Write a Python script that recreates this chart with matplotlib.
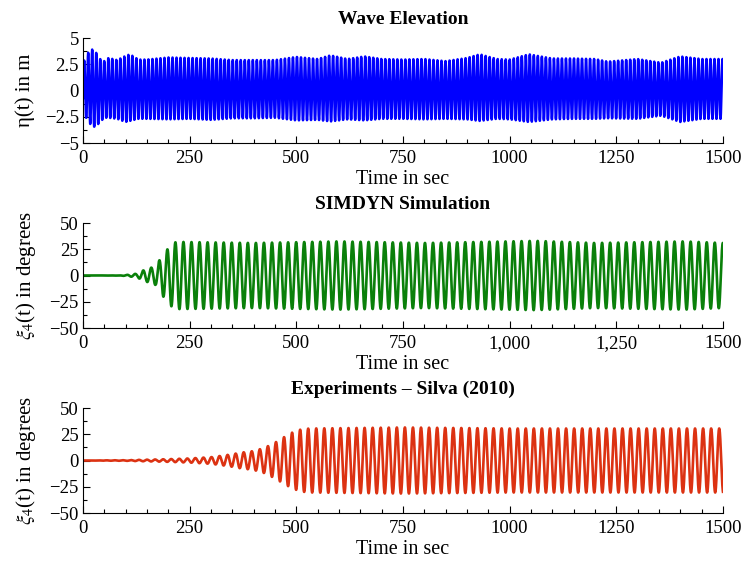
"""
plot.py — wave elevation and roll response (SIMDYN vs. experiment).

Envelope values and periods were read off the reference figure;
the oscillation itself is drawn as a carrier under those envelopes.
"""

import numpy as np
import matplotlib
matplotlib.use("Agg")
import matplotlib.pyplot as plt
from matplotlib.ticker import MultipleLocator, FixedLocator, FixedFormatter

# --- wave elevation (m): crest / trough envelope ---------------------------
wave_t = [0, 10, 20, 30, 40, 50, 60, 80, 100, 110, 130, 150, 200, 250, 300,
          350, 400, 450, 500, 550, 580, 620, 660, 700, 750, 800, 850, 900,
          930, 970, 1000, 1045, 1100, 1150, 1200, 1230, 1300, 1355, 1400,
          1450, 1500]
wave_crest = [2.6, 3.5, 3.95, 3.65, 3.0, 2.8, 3.1, 2.9, 3.3, 3.45, 2.95, 2.95,
              3.15, 3.1, 3.05, 2.9, 2.9, 2.9, 3.2, 3.0, 3.35, 3.0, 3.25, 3.0,
              2.95, 3.0, 2.8, 3.1, 3.45, 3.0, 2.95, 3.45, 3.05, 3.05, 3.0,
              2.75, 3.0, 2.65, 3.25, 3.0, 3.0]
wave_trough = [-2.6, -2.6, -3.45, -3.45, -3.0, -2.6, -2.6, -2.7, -3.0, -2.9,
               -2.7, -2.7, -2.75, -2.7, -2.8, -2.65, -2.65, -2.6, -2.85, -2.8,
               -2.95, -2.75, -2.85, -2.7, -2.7, -2.75, -2.7, -2.75, -2.9,
               -2.7, -2.75, -3.0, -2.75, -2.7, -2.7, -2.65, -2.7, -2.4, -3.0,
               -2.7, -2.7]
wave_period = 9.41      # s
wave_crest_t0 = 21.6    # time of a crest, s

# --- roll, SIMDYN simulation (deg) ------------------------------------------
sim_t = [0, 80, 100, 110, 126, 142, 160, 170, 179, 188, 198, 206, 216, 226,
         400, 600, 800, 1060, 1200, 1410, 1500]
sim_amp = [0.0, 0.1, 0.4, 1.0, 1.7, 5.0, 7.5, 9.0, 14.5, 20.0, 25.0, 29.0,
           31.6, 32.0, 31.0, 32.5, 31.0, 33.0, 31.0, 32.5, 31.0]
sim_period = 18.87
sim_peak_t0 = 9.0

# --- roll, experiments Silva (2010) (deg) -----------------------------------
exp_t = [0, 100, 150, 200, 250, 300, 330, 350, 370, 400, 425, 450, 470, 490,
         510, 530, 750, 1000, 1500]
exp_amp = [0.0, 0.3, 0.8, 1.3, 2.0, 3.2, 4.8, 6.0, 7.5, 9.0, 12.0, 17.0,
           22.0, 26.5, 29.5, 30.5, 31.5, 30.5, 30.5]
exp_period = 18.89
exp_peak_t0 = 17.8

x_ticks = [0, 250, 500, 750, 1000, 1250, 1500]
x_labels_plain = ["0", "250", "500", "750", "1000", "1250", "1500"]
x_labels_sim = ["0", "250", "500", "750", "1,000", "1,250", "1500"]

plt.rcParams["font.family"] = ["Liberation Serif", "DejaVu Serif"]
plt.rcParams["mathtext.fontset"] = "stix"
plt.rcParams["axes.unicode_minus"] = True

t = np.arange(0, 1500.05, 0.05)


def wave_signal():
    c = np.cos(2 * np.pi * (t - wave_crest_t0) / wave_period)
    crest = np.interp(t, wave_t, wave_crest)
    trough = np.interp(t, wave_t, wave_trough)
    return np.where(c >= 0, crest * c, -trough * c)


def roll_signal(env_t, env_amp, period, t0):
    return np.interp(t, env_t, env_amp) * np.cos(2 * np.pi * (t - t0) / period)


def style_axes(ax, ylim, ymajor, labels):
    ax.set_xlim(0, 1500)
    ax.set_ylim(*ylim)
    for side in ("top", "right"):
        ax.spines[side].set_visible(False)
    for side in ("left", "bottom"):
        ax.spines[side].set_linewidth(0.8)
    ax.xaxis.set_major_locator(FixedLocator(x_ticks))
    ax.xaxis.set_major_formatter(FixedFormatter(labels))
    ax.xaxis.set_minor_locator(MultipleLocator(50))
    ax.yaxis.set_major_locator(MultipleLocator(ymajor))
    ax.yaxis.set_minor_locator(MultipleLocator(ymajor / 2))
    ax.tick_params(which="both", direction="in", top=False, right=False,
                   labelsize=13.5, width=0.8)
    ax.tick_params(axis="x", pad=5)
    ax.tick_params(axis="y", pad=3)
    ax.tick_params(which="major", length=5)
    ax.tick_params(which="minor", length=3)
    ax.set_xlabel("Time in sec", fontsize=14.5, labelpad=2)


fig = plt.figure(figsize=(7.45, 5.63), dpi=100)
ax1 = fig.add_axes([0.1114, 0.746, 0.859, 0.1865])
ax2 = fig.add_axes([0.1114, 0.4174, 0.859, 0.1865])
ax3 = fig.add_axes([0.1114, 0.0888, 0.859, 0.1865])

ax1.plot(t, wave_signal(), color="#0000ff", lw=1.8)
style_axes(ax1, (-5, 5), 2.5, x_labels_plain)
ax1.set_yticks([-5, -2.5, 0, 2.5, 5])
ax1.set_yticklabels(["\u22125", "\u22122.5", "0", "2.5", "5"])
ax1.set_ylabel("\u03b7(t) in m", fontsize=15, labelpad=7)
ax1.set_title("Wave Elevation", fontsize=14, fontweight="bold", pad=10)

ax2.plot(t, roll_signal(sim_t, sim_amp, sim_period, sim_peak_t0),
         color="#0a800a", lw=1.9)
style_axes(ax2, (-50, 50), 25, x_labels_sim)
ax2.set_ylabel(r"$\xi_4$(t) in degrees", fontsize=15, labelpad=8)
ax2.set_title("SIMDYN Simulation", fontsize=14, fontweight="bold", pad=10)

ax3.plot(t, roll_signal(exp_t, exp_amp, exp_period, exp_peak_t0),
         color="#dc3212", lw=1.9)
style_axes(ax3, (-50, 50), 25, x_labels_plain)
ax3.set_ylabel(r"$\xi_4$(t) in degrees", fontsize=15, labelpad=8)
ax3.set_title("Experiments \u2013 Silva (2010)", fontsize=14,
              fontweight="bold", pad=10)

fig.savefig("out.png", dpi=100)
plt.close(fig)
